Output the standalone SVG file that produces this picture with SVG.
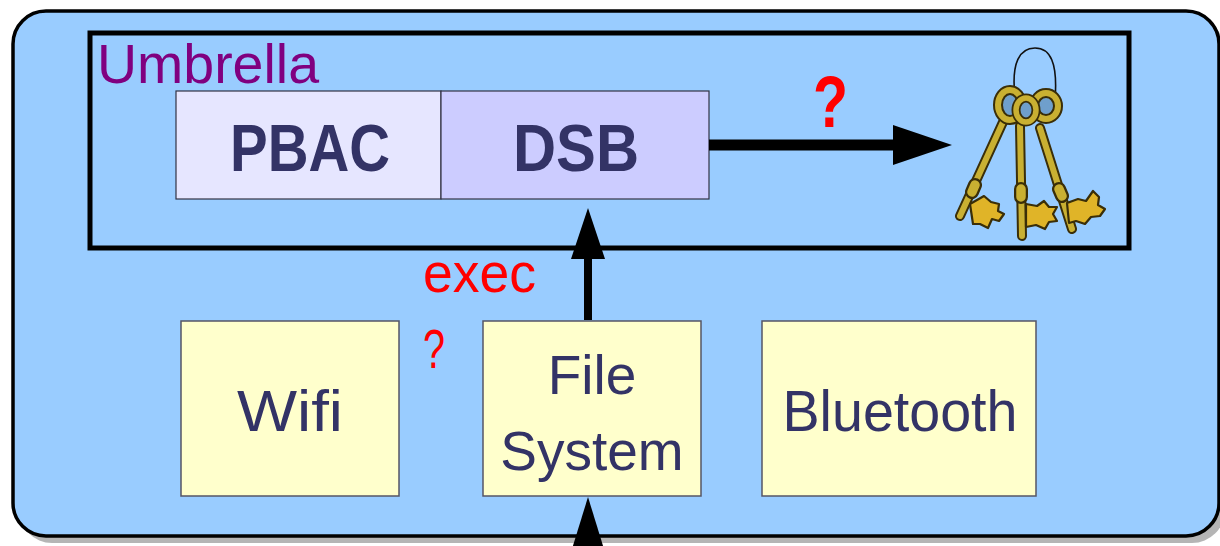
<svg xmlns="http://www.w3.org/2000/svg" width="1220" height="546" viewBox="0 0 1220 546">
  <style>
    .lbl { font-family: "Liberation Sans", Arial, sans-serif; fill: #333366; text-anchor: middle; }
    .bold { font-weight: bold; }
    .red { font-family: "Liberation Sans", Arial, sans-serif; fill: #ff0000; }
    .box { fill: #ffffcc; stroke: #555566; stroke-width: 1.5; }
    .conn { stroke: #000; fill: none; }
    .head { fill: #000; }
    .keyOut { stroke: #3a2e08; fill: none; stroke-linecap: round; }
    .keyIn { stroke: #c9b032; fill: none; stroke-linecap: round; }
    .bit { fill: #e0b428; stroke: #3a2e08; stroke-width: 2.2; stroke-linejoin: round; }
  </style>

  <!-- platform container with drop shadow -->
  <g id="platform">
    <rect x="19" y="18" width="1206" height="525" rx="33" fill="#b5b5b5"/>
    <rect x="13" y="11" width="1206" height="525" rx="33" fill="#99ccff" stroke="#000" stroke-width="3.5"/>
  </g>

  <!-- umbrella frame -->
  <g id="umbrella">
    <rect x="90" y="33" width="1039" height="215" fill="none" stroke="#000" stroke-width="5"/>
    <text x="97" y="83" font-family="Liberation Sans, Arial, sans-serif" font-size="55" fill="#800080" textLength="222" lengthAdjust="spacingAndGlyphs">Umbrella</text>
  </g>

  <g id="pbac">
    <rect x="176" y="91" width="265" height="108" fill="#e6e6ff" stroke="#333344" stroke-width="1.2"/>
    <text class="lbl bold" x="310" y="171" font-size="66" textLength="160" lengthAdjust="spacingAndGlyphs">PBAC</text>
  </g>

  <g id="dsb">
    <rect x="441" y="91" width="268" height="108" fill="#ccccff" stroke="#333344" stroke-width="1.2"/>
    <text class="lbl bold" x="576" y="171" font-size="66" textLength="126" lengthAdjust="spacingAndGlyphs">DSB</text>
  </g>

  <!-- bunch of keys on a wire ring -->
  <g id="keys">
    <path d="M1015,97 C1011,62 1020,48 1035,48 C1050,48 1058,62 1055,100" fill="none" stroke="#111" stroke-width="1.6"/>
    <!-- shafts -->
    <path class="keyOut" stroke-width="10" d="M1003,122 L960,216 M1020,126 L1022,236 M1040,128 L1072,229"/>
    <path class="keyIn" stroke-width="6" d="M1003,122 L960,216 M1020,126 L1022,236 M1040,128 L1072,229"/>
    <!-- collars -->
    <path class="keyOut" stroke-width="14" d="M975,185 L972,192 M1021,189 L1021,197 M1059,189 L1062,196"/>
    <path class="keyIn" stroke-width="9.5" d="M975,185 L972,192 M1021,189 L1021,197 M1059,189 L1062,196"/>
    <!-- bits -->
    <path class="bit" d="M970,204 L984,196 L991,202 L999,204 L998,211 L1004,214 L999,221 L992,219 L988,228 L980,224 L973,224 Z"/>
    <path class="bit" d="M1026,204 L1037,206 L1044,201 L1049,207 L1057,207 L1053,214 L1057,221 L1049,222 L1045,229 L1036,225 L1026,227 Z"/>
    <path class="bit" d="M1067,203 L1078,199 L1086,201 L1093,191 L1099,197 L1098,205 L1105,209 L1100,216 L1091,217 L1085,224 L1076,221 L1069,223 Z"/>
    <!-- bows -->
    <ellipse cx="1046" cy="106" rx="12" ry="13" fill="#6f9fcc" stroke="#3a2e08" stroke-width="10"/>
    <ellipse cx="1046" cy="106" rx="12" ry="13" fill="none" stroke="#c9b032" stroke-width="6"/>
    <ellipse cx="1010" cy="105" rx="12" ry="15" fill="#6f9fcc" stroke="#3a2e08" stroke-width="10"/>
    <ellipse cx="1010" cy="105" rx="12" ry="15" fill="none" stroke="#c9b032" stroke-width="6"/>
    <ellipse cx="1026" cy="110" rx="10" ry="12" fill="#6f9fcc" stroke="#3a2e08" stroke-width="9"/>
    <ellipse cx="1026" cy="110" rx="10" ry="12" fill="none" stroke="#c9b032" stroke-width="5.5"/>
  </g>

  <g id="wifi">
    <rect class="box" x="181" y="321" width="218" height="175"/>
    <text class="lbl" x="290" y="431" font-size="57" textLength="106" lengthAdjust="spacingAndGlyphs">Wifi</text>
  </g>

  <g id="filesystem">
    <rect class="box" x="483" y="321" width="218" height="175"/>
    <text class="lbl" x="592" y="394" font-size="55">File</text>
    <text class="lbl" x="592" y="470" font-size="55">System</text>
  </g>

  <g id="bluetooth">
    <rect class="box" x="762" y="321" width="274" height="175"/>
    <text class="lbl" x="900" y="431" font-size="57" textLength="235" lengthAdjust="spacingAndGlyphs">Bluetooth</text>
  </g>

  <!-- connectors -->
  <g id="connectors">
    <line class="conn" x1="709" y1="145" x2="896" y2="145" stroke-width="11"/>
    <polygon class="head" points="893,125 952,145 893,165"/>
    <line class="conn" x1="588" y1="320" x2="588" y2="255" stroke-width="8"/>
    <polygon class="head" points="571,259 588,208 605,259"/>
    <polygon class="head" points="572,549 588,497 604,549"/>
    <text class="red bold" x="813" y="127" font-size="72" textLength="35" lengthAdjust="spacingAndGlyphs">?</text>
    <text class="red" x="423" y="292" font-size="56" textLength="113" lengthAdjust="spacingAndGlyphs">exec</text>
    <text class="red" x="423" y="368" font-size="55" textLength="22" lengthAdjust="spacingAndGlyphs">?</text>
  </g>
</svg>
